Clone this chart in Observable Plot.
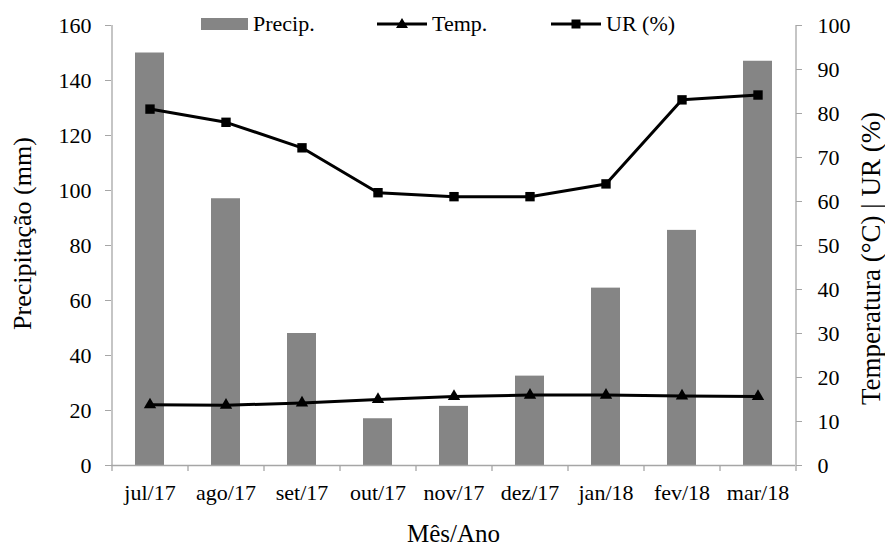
<!DOCTYPE html>
<html>
<head>
<meta charset="utf-8">
<script src="https://cdn.jsdelivr.net/npm/d3@7"></script>
<script src="https://cdn.jsdelivr.net/npm/@observablehq/plot@0.6"></script>
<style>
  html, body { margin: 0; padding: 0; background: #fff; }
  #wrap { position: relative; width: 885px; height: 552px; font-family: "Liberation Serif", "Times New Roman", serif; }
  .leg { position: absolute; top: 12px; display: flex; align-items: center; font-size: 22px; color: #000; line-height: 24px; }
  .leg svg { margin-right: 5px; }
</style>
</head>
<body>
<div id="wrap"></div>
<script>
const months = ["jul/17", "ago/17", "set/17", "out/17", "nov/17", "dez/17", "jan/18", "fev/18", "mar/18"];
const precip = [150, 97, 48, 17, 21.5, 32.5, 64.5, 85.5, 147];
const temp = [13.8, 13.7, 14.2, 15.0, 15.7, 16.0, 16.0, 15.8, 15.7];
const ur = [81, 78, 72.2, 62, 61.1, 61.1, 64, 83.1, 84.2];
const leftTicks = [0, 20, 40, 60, 80, 100, 120, 140, 160];
const rightTicks = [0, 10, 20, 30, 40, 50, 60, 70, 80, 90, 100];

const leftMax = 160, rightMax = 100;
const k = leftMax / rightMax; // right axis -> left axis units

const rows = months.map((m, i) => ({month: m, precip: precip[i], temp: temp[i] * k, ur: ur[i] * k}));

const grey = "#a6a6a6";
const serif = '"Liberation Serif", "Times New Roman", serif';
const W = 885, H = 552, mL = 111, mR = 90, mT = 25, mB = 87;
const half = (W - mL - mR) / months.length / 2;

const chart = Plot.plot({
  width: W, height: H,
  marginLeft: mL, marginRight: mR, marginTop: mT, marginBottom: mB,
  style: {fontFamily: serif, fontSize: "22px", color: "#000", background: "#fff", overflow: "visible"},
  x: {domain: months, paddingInner: 0.62, paddingOuter: 0.31, label: null},
  y: {domain: [0, leftMax], label: null},
  marks: [
    Plot.barY(rows, {x: "month", y: "precip", fill: "#858585"}),
    // axis lines
    Plot.ruleY([0], {stroke: grey, strokeWidth: 1.3}),
    Plot.ruleX([months[0]], {dx: -half, y1: 0, y2: leftMax, stroke: grey, strokeWidth: 1.3}),
    Plot.ruleX([months[months.length - 1]], {dx: half, y1: 0, y2: leftMax, stroke: grey, strokeWidth: 1.3}),
    // x boundary ticks
    Plot.ruleX(months, {x: d => d, dx: -half, y1: 0, y2: -2.2, stroke: grey, strokeWidth: 1.3}),
    Plot.ruleX([months[months.length - 1]], {dx: half, y1: 0, y2: -2.2, stroke: grey, strokeWidth: 1.3}),
    Plot.axisX({tickSize: 0, tickPadding: 19, label: null, fontSize: 22, fontFamily: serif}),
    Plot.axisY({ticks: leftTicks, tickSize: 6, tickPadding: 14, stroke: grey, label: null, fontSize: 22, fontFamily: serif}),
    Plot.axisY(rightTicks.map(v => v * k), {anchor: "right", tickFormat: d => Math.round(d / k), tickSize: 6, tickPadding: 16, stroke: grey, label: null, fontSize: 22, fontFamily: serif}),
    // lines
    Plot.line(rows, {x: "month", y: "ur", stroke: "#000", strokeWidth: 3}),
    Plot.dot(rows, {x: "month", y: "ur", symbol: "square", r: 5.3, fill: "#000"}),
    Plot.line(rows, {x: "month", y: "temp", stroke: "#000", strokeWidth: 3}),
    Plot.dot(rows, {x: "month", y: "temp", symbol: "triangle", r: 4.6, fill: "#000"}),
    // titles
    Plot.text(["Mês/Ano"], {frameAnchor: "bottom", textAnchor: "middle", dy: 76, fontSize: 25, fontFamily: serif, fill: "#000"}),
    Plot.text(["Precipitação (mm)"], {frameAnchor: "left", textAnchor: "middle", dx: -89, dy: -12, rotate: -90, fontSize: 26, fontFamily: serif, fill: "#000"}),
    Plot.text(["Temperatura (°C) | UR (%)"], {frameAnchor: "right", textAnchor: "middle", dx: 76, dy: 13, rotate: -90, fontSize: 27, fontFamily: serif, fill: "#000"})
  ]
});

const wrap = document.getElementById("wrap");
wrap.appendChild(chart);

// legend
const legendItems = [
  {label: "Precip.", kind: "bar", left: 201},
  {label: "Temp.", kind: "tri", left: 377},
  {label: "UR (%)", kind: "sq", left: 551}
];
for (const it of legendItems) {
  const div = document.createElement("div");
  div.className = "leg";
  div.style.left = it.left + "px";
  let sw;
  if (it.kind === "bar") {
    sw = `<svg width="47" height="14"><rect x="0" y="1" width="47" height="12" fill="#858585"/></svg>`;
  } else if (it.kind === "tri") {
    sw = `<svg width="50" height="14"><line x1="0" y1="7" x2="50" y2="7" stroke="#000" stroke-width="3"/><path d="M25,1 L31,11 L19,11 Z" fill="#000"/></svg>`;
  } else {
    sw = `<svg width="50" height="14"><line x1="0" y1="7" x2="50" y2="7" stroke="#000" stroke-width="3"/><rect x="20.5" y="2.5" width="9" height="9" fill="#000"/></svg>`;
  }
  div.innerHTML = sw + `<span>${it.label}</span>`;
  wrap.appendChild(div);
}
</script>
</body>
</html>
